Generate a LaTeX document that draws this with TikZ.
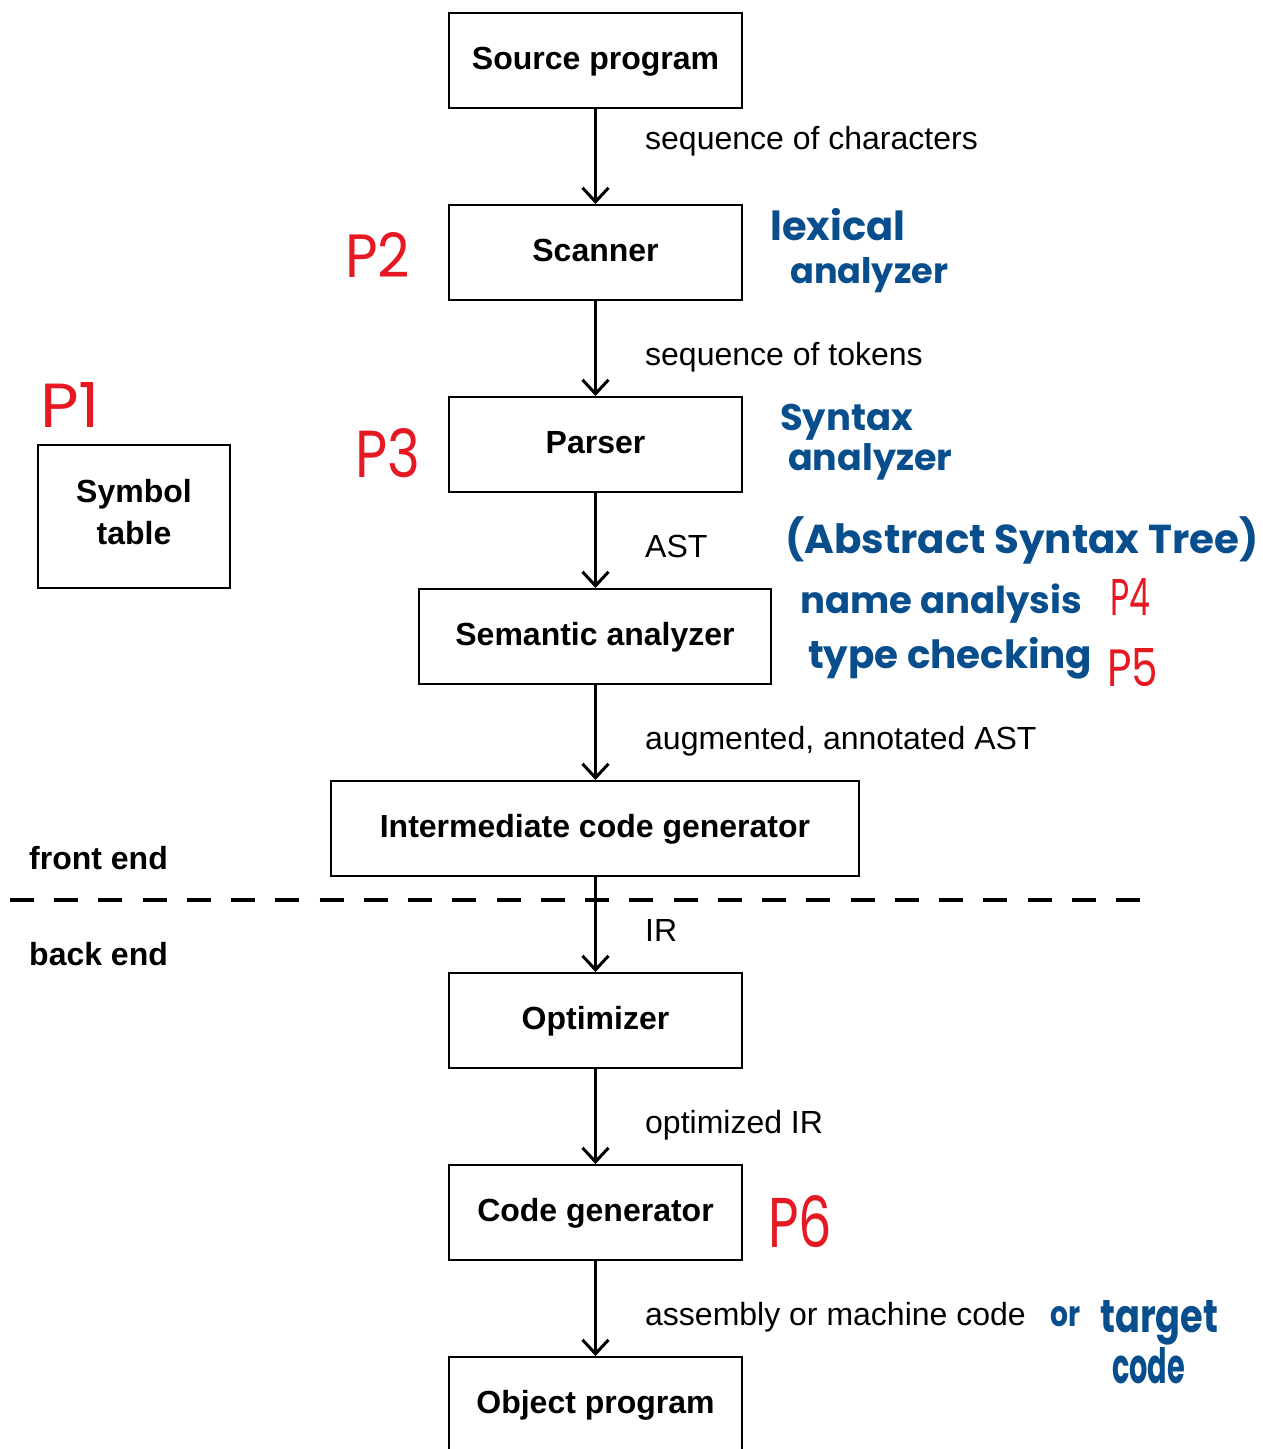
\documentclass[tikz,border=0pt]{standalone}
\usepackage{fontspec}
\setmainfont{Liberation Sans}
\newfontfamily\handfont{Poppins}
\usetikzlibrary{arrows.meta}
\definecolor{inkblue}{RGB}{8,78,140}
\definecolor{inkred}{RGB}{230,25,35}
\newcommand\hw[2]{\resizebox{#1pt}{!}{\handfont\bfseries #2}}
\newcommand\hwb[3]{\resizebox{#1pt}{#2pt}{\handfont #3}}
\begin{document}
\begin{tikzpicture}[x=1pt,y=-1pt,
  stage/.style={draw,line width=2pt,minimum height=95pt,inner sep=0pt,
    font=\fontsize{32}{38}\selectfont\bfseries,text height=17pt,text depth=0pt},
  flow/.style={line width=3pt,-{Straight Barb[length=14pt,width=26pt]}},
  lbl/.style={anchor=base west,inner sep=0pt,font=\fontsize{32}{38}\selectfont},
  side/.style={anchor=base west,inner sep=0pt,font=\fontsize{32}{38}\selectfont\bfseries},
  blueink/.style={anchor=base west,inner sep=0pt,text=inkblue},
  redink/.style={anchor=base west,inner sep=0pt,text=inkred}]
\useasboundingbox[fill=white] (0,0) rectangle (1262,1449);

\node[stage,minimum width=293pt] (src) at (595.5,60.5) {Source program};
\node[stage,minimum width=293pt] (scan) at (595.5,252.5) {Scanner};
\node[stage,minimum width=293pt] (pars) at (595.5,444.5) {Parser};
\node[stage,minimum width=352pt] (sem) at (595,636.5) {Semantic analyzer};
\node[stage,minimum width=528pt] (icg) at (595,828.5) {Intermediate code generator};
\node[stage,minimum width=293pt] (opt) at (595.5,1020.5) {Optimizer};
\node[stage,minimum width=293pt] (cg) at (595.5,1212.5) {Code generator};
\node[stage,minimum width=293pt] (obj) at (595.5,1404.5) {Object program};

\node[draw,line width=2pt,minimum width=192pt,minimum height=143pt,
  inner sep=0pt] (sym) at (134,516.5) {};
\node[anchor=base,inner sep=0pt,font=\fontsize{32}{42}\selectfont\bfseries] (symA) at (134,502) {Symbol};
\node[anchor=base,inner sep=0pt,font=\fontsize{32}{42}\selectfont\bfseries] (symB) at (134,544) {table};

\draw[flow] (src) -- (scan);
\draw[flow] (scan) -- (pars);
\draw[flow] (pars) -- (pars|-sem.north);
\draw[flow] (pars|-sem.south) -- (pars|-icg.north);
\draw[flow] (pars|-icg.south) -- (opt);
\draw[flow] (opt) -- (cg);
\draw[flow] (cg) -- (obj);

\node[lbl] (l1) at (645,149) {sequence of characters};
\node[lbl] (l2) at (645,365) {sequence of tokens};
\node[lbl] (l3) at (645,557) {AST};
\node[lbl] (l4) at (645,749) {augmented, annotated AST};
\node[lbl] (l5) at (645,941) {IR};
\node[lbl] (l6) at (645,1133) {optimized IR};
\node[lbl] (l7) at (645,1325) {assembly or machine code};

\coordinate (dl) at (10,900);
\coordinate (dr) at (1140,900);
\draw[line width=4pt,dash pattern=on 24pt off 20.24pt] (dl) -- (dr);
\node[side] (fe) at (29,869) {front end};
\node[side] (be) at (29,965) {back end};

% handwritten annotations
\node[redink] (p1) at (40,427) {\hwb{60}{45}{P1}};
\node[redink] (p2) at (345,277) {\hwb{65}{45}{P2}};
\node[redink] (p3) at (355,477) {\hwb{65}{49}{P3}};
\node[redink] (p4) at (1110,615) {\hwb{40}{37}{P4}};
\node[redink] (p5) at (1107,686) {\hwb{51}{38}{P5}};
\node[redink] (p6) at (768,1247) {\hwb{64}{52}{P6}};
\node[blueink] (a1) at (770,240) {\hw{135}{lexical}};
\node[blueink] (a2) at (790,283) {\hw{158}{analyzer}};
\node[blueink] (a3) at (780,430) {\hw{133}{Syntax}};
\node[blueink] (a4) at (788,470) {\hw{164}{analyzer}};
\node[blueink] (a5) at (785,553) {\hw{473}{(Abstract Syntax Tree)}};
\node[blueink] (a6) at (800,613) {\hw{282}{name analysis}};
\node[blueink] (a7) at (808,668) {\hw{284}{type checking}};
\node[blueink] (a8) at (1050,1326) {\hwb{30}{20}{\bfseries or}};
\node[blueink] (a9) at (1100,1332) {\hwb{118}{32}{\bfseries target}};
\node[blueink] (a10) at (1112,1383) {\hwb{73}{36}{\bfseries code}};
\end{tikzpicture}
\end{document}
